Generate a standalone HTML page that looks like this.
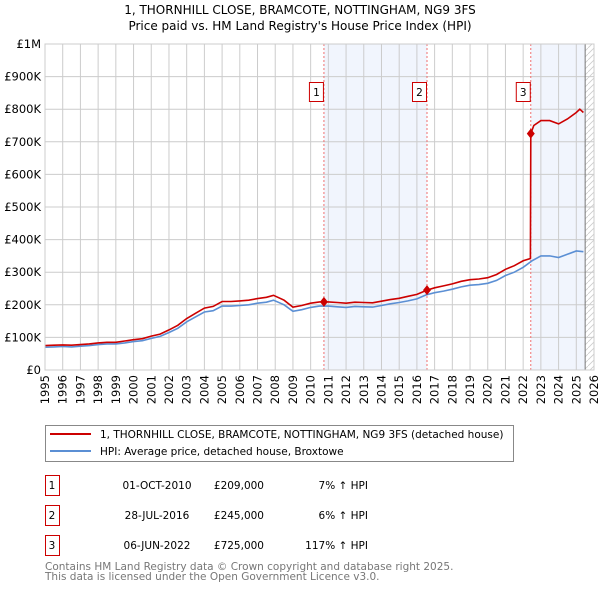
<!DOCTYPE html>
<html><head><meta charset="utf-8"><style>
body{margin:0;background:#fff;font-family:"DejaVu Sans","Liberation Sans",sans-serif;}
svg text{font-family:"DejaVu Sans","Liberation Sans",sans-serif;}
</style></head><body>
<svg id="chart" width="600" height="590" viewBox="0 0 600 590" xmlns="http://www.w3.org/2000/svg">
<defs><pattern id="hatch" width="6" height="6" patternUnits="userSpaceOnUse"><path d="M0,6 L6,0" stroke="#ccc" stroke-width="0.8"/></pattern></defs>
<text x="300" y="14" text-anchor="middle" font-size="12">1, THORNHILL CLOSE, BRAMCOTE, NOTTINGHAM, NG9 3FS</text>
<text x="300" y="30" text-anchor="middle" font-size="12">Price paid vs. HM Land Registry's House Price Index (HPI)</text>
<g id="plot"></g>
<g>
<rect x="45.5" y="425.5" width="468" height="36" fill="#fff" stroke="#888"/>
<line x1="50" y1="434" x2="91" y2="434" stroke="#cc0000" stroke-width="2"/>
<text x="100" y="438" font-size="10.5">1, THORNHILL CLOSE, BRAMCOTE, NOTTINGHAM, NG9 3FS (detached house)</text>
<line x1="50" y1="451" x2="91" y2="451" stroke="#5b8fd4" stroke-width="2"/>
<text x="100" y="455" font-size="10.5">HPI: Average price, detached house, Broxtowe</text>
</g>
<g id="table" font-size="10.5"></g>
<text x="45" y="570" font-size="10.5" fill="#777">Contains HM Land Registry data © Crown copyright and database right 2025.</text>
<text x="45" y="580" font-size="10.5" fill="#777">This data is licensed under the Open Government Licence v3.0.</text>
</svg>
<script>
const hpiYears=[1995,1995.5,1996,1996.5,1997,1997.5,1998,1998.5,1999,1999.5,2000,2000.5,2001,2001.5,2002,2002.5,2003,2003.5,2004,2004.5,2005,2005.5,2006,2006.5,2007,2007.5,2007.9,2008.5,2009,2009.5,2010,2010.5,2011,2011.5,2012,2012.5,2013,2013.5,2014,2014.5,2015,2015.5,2016,2016.5,2017,2017.5,2018,2018.5,2019,2019.5,2020,2020.5,2021,2021.5,2022,2022.5,2023,2023.5,2024,2024.5,2025,2025.4];
const hpiValues=[70,71,72,71,73,75,78,80,80,83,87,90,97,103,115,128,148,163,178,182,196,196,198,200,205,208,214,200,180,185,192,196,196,194,192,195,194,193,198,203,207,212,218,230,237,242,248,255,260,262,266,275,290,300,315,335,350,350,345,355,365,363];
const redYears=[1995,1995.5,1996,1996.5,1997,1997.5,1998,1998.5,1999,1999.5,2000,2000.5,2001,2001.5,2002,2002.5,2003,2003.5,2004,2004.5,2005,2005.5,2006,2006.5,2007,2007.5,2007.9,2008.5,2009,2009.5,2010,2010.5,2010.75,2011,2011.5,2012,2012.5,2013,2013.5,2014,2014.5,2015,2015.5,2016,2016.57,2017,2017.5,2018,2018.5,2019,2019.5,2020,2020.5,2021,2021.5,2022,2022.41,2022.43,2022.6,2023,2023.5,2024,2024.5,2025,2025.2,2025.4];
const redValues=[75,76,77,76,78,80,83,85,85,89,93,96,104,110,123,137,158,174,190,195,210,210,212,214,219,223,229,214,193,198,205,209,209,209,207,205,208,207,206,211,216,220,226,232,245,252,258,264,272,277,279,283,293,309,320,335,342,725,750,765,765,755,770,790,800,790];
const yTicks=[0,100,200,300,400,500,600,700,800,900,1000];
const yTickLabels=['£0','£100K','£200K','£300K','£400K','£500K','£600K','£700K','£800K','£900K','£1M'];
const xTicks=[1995,1996,1997,1998,1999,2000,2001,2002,2003,2004,2005,2006,2007,2008,2009,2010,2011,2012,2013,2014,2015,2016,2017,2018,2019,2020,2021,2022,2023,2024,2025,2026];
const saleLabels=['1','2','3'];
const saleYears=[2010.75,2016.57,2022.43];
const salePrices=[209,245,725];
const saleDates=['01-OCT-2010','28-JUL-2016','06-JUN-2022'];
const salePriceText=['£209,000','£245,000','£725,000'];
const saleHpiText=['7% ↑ HPI','6% ↑ HPI','117% ↑ HPI'];
const nowYear=2025.5;

const NS='http://www.w3.org/2000/svg';
const L=45,R=594,T=44,B=370;
const xs=y=>L+(y-1995)/(2026-1995)*(R-L);
const ys=v=>B-v/1000*(B-T);
function mk(tag,attrs,parent){const e=document.createElementNS(NS,tag);for(const k in attrs)e.setAttribute(k,attrs[k]);parent.appendChild(e);return e;}
const g=document.getElementById('plot');
// shading
let s1=mk('rect',{x:xs(saleYears[0]),y:T,width:xs(saleYears[1])-xs(saleYears[0]),height:B-T,fill:'#eef3fc',opacity:0.8},g);


let s2=mk('rect',{x:xs(saleYears[2]),y:T,width:xs(nowYear)-xs(saleYears[2]),height:B-T,fill:'#eef3fc',opacity:0.8},g);


let hz=mk('rect',{x:xs(nowYear),y:T,width:R-xs(nowYear),height:B-T,fill:'url(#hatch)'},g);


// grid
yTicks.forEach((v,i)=>{
 const l=mk('line',{x1:L,x2:R,y1:ys(v),y2:ys(v),stroke:'#ccc','stroke-width':1},g);
 
 
 const t=mk('text',{x:L-4,y:ys(v)+4,'text-anchor':'end','font-size':11.5},g);t.textContent=yTickLabels[i];
 
 
});
xTicks.forEach(y=>{
 const l=mk('line',{x1:xs(y),x2:xs(y),y1:T,y2:B,stroke:'#ccc','stroke-width':1},g);
 
 
 const t=mk('text',{x:0,y:0,'text-anchor':'end','font-size':11.5,transform:`translate(${xs(y)+4},${B+5}) rotate(-90)`},g);t.textContent=y;
 
 
});
let nl=mk('line',{x1:xs(nowYear),x2:xs(nowYear),y1:T,y2:B,stroke:'#777','stroke-width':1},g);


// sale vlines and boxes
saleYears.forEach((y,i)=>{
 const l=mk('line',{x1:xs(y),x2:xs(y),y1:T,y2:B,stroke:'#f07070','stroke-width':1,'stroke-dasharray':'2,2'},g);
 
 
 const r=mk('rect',{x:xs(y)-14.5,y:82.5,width:14,height:19,fill:'#fff',stroke:'#cc0000'},g);
 
 
 const t=mk('text',{x:xs(y)-7.5,y:96,'text-anchor':'middle','font-size':10.5},g);t.textContent=saleLabels[i];
 
 
});
const path=(X,V)=>X.map((x,i)=>(i?'L':'M')+xs(x).toFixed(1)+','+ys(V[i]).toFixed(1)).join(' ');
let hp=mk('path',{d:path(hpiYears,hpiValues),fill:'none',stroke:'#5b8fd4','stroke-width':1.6},g);


let rp=mk('path',{d:path(redYears,redValues),fill:'none',stroke:'#cc0000','stroke-width':1.6},g);


saleYears.forEach((y,i)=>{
 const c=mk('path',{d:`M${xs(y)},${ys(salePrices[i])-5} l4,5 l-4,5 l-4,-5 z`,fill:'#cc0000'},g);
 
 
});
let fr=mk('rect',{x:L,y:T,width:R-L,height:B-T,fill:'none',stroke:'#ccc'},g);


// table
const tb=document.getElementById('table');
saleLabels.forEach((s,i)=>{
 const y=483+i*30;
 const r=mk('rect',{x:45.5,y:y-7.5,width:14,height:20,fill:'#fff',stroke:'#cc0000'},tb);
 
 
 const vals=[[52,'middle',s],[157,'middle',saleDates[i]],[264,'end',salePriceText[i]],[368,'end',saleHpiText[i]]];
 vals.forEach(v=>{const t=mk('text',{x:v[0],y:y+6,'text-anchor':v[1]},tb);t.textContent=v[2];
  
  });
});
</script>
</body></html>
